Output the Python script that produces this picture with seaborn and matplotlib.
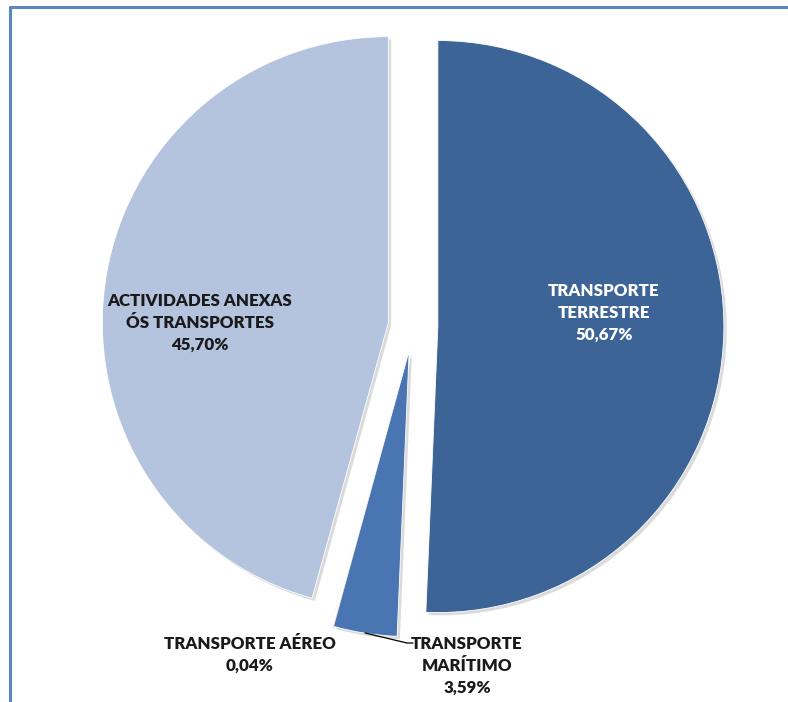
import matplotlib
matplotlib.use("Agg")
import matplotlib.pyplot as plt
import matplotlib.patheffects as pe
from matplotlib.lines import Line2D
import seaborn as sns

# Share of companies by transport activity
categories = ["TRANSPORTE\nTERRESTRE", "TRANSPORTE\nMARÍTIMO", "TRANSPORTE AÉREO", "ACTIVIDADES ANEXAS\nÓS TRANSPORTES"]
shares = [50.67, 3.59, 0.04, 45.70]
share_labels = ["50,67%", "3,59%", "0,04%", "45,70%"]
colors = ["#3C6496", "#4976B2", "#4976B2", "#B4C3DE"]
text_colors = ["white", "#1a1a1a", "#1a1a1a", "#1a1a1a"]

sns.set_theme(style="white")
plt.rcParams["font.family"] = ["Lato", "DejaVu Sans"]

W, H, DPI = 788, 702, 100
fig = plt.figure(figsize=(W / DPI, H / DPI), dpi=DPI)
fig.patch.set_facecolor("white")

# pie centre and radius in pixels
cx, cy, R = 413, 326, 286
ax = fig.add_axes([0, 0, 1, 1])

wedges, _ = ax.pie(
    shares,
    colors=colors,
    startangle=90,
    counterclock=False,
    explode=[0.087] * len(shares),
    radius=1.0,
    wedgeprops=dict(linewidth=0.6, edgecolor="white"),
)
for w in wedges:
    w.set_path_effects([
        pe.SimplePatchShadow(offset=(2, -2), shadow_rgbFace="#8a8a8a", alpha=0.3),
        pe.Normal(),
    ])

ax.set_xlim(-cx / R, (W - cx) / R)
ax.set_ylim(-(H - cy) / R, cy / R)
ax.set_aspect("auto")
ax.axis("off")


def px(x, y):
    return (x - cx) / R, (cy - y) / R


font = dict(fontsize=12.2, fontweight="heavy", ha="center", va="center", linespacing=1.45)

# labels inside the large slices
ax.text(*px(604, 313), f"{categories[0]}\n{share_labels[0]}", color=text_colors[0], **font)
ax.text(*px(200, 323), f"{categories[3]}\n{share_labels[3]}", color=text_colors[3], **font)
# labels outside the small slices
ax.text(*px(250, 655), f"{categories[2]}\n{share_labels[2]}", color=text_colors[2], **font)
ax.text(*px(467, 666), f"{categories[1]}\n{share_labels[1]}", color=text_colors[1], **font)

# leader line for the maritime slice
lx, ly = zip(px(365, 633), px(407, 643), px(413, 643))
ax.add_line(Line2D(lx, ly, color="black", linewidth=0.9))

# chart area frame (top and left edges)
frame_color = "#5B86C0"
fig.add_artist(Line2D([9.5 / W, 9.5 / W], [0, 1 - 6.5 / H], transform=fig.transFigure,
                      color=frame_color, linewidth=2.2))
fig.add_artist(Line2D([9.5 / W, 1], [1 - 6.5 / H, 1 - 6.5 / H], transform=fig.transFigure,
                      color=frame_color, linewidth=2.2))

fig.savefig("out.png", dpi=DPI, facecolor="white")
